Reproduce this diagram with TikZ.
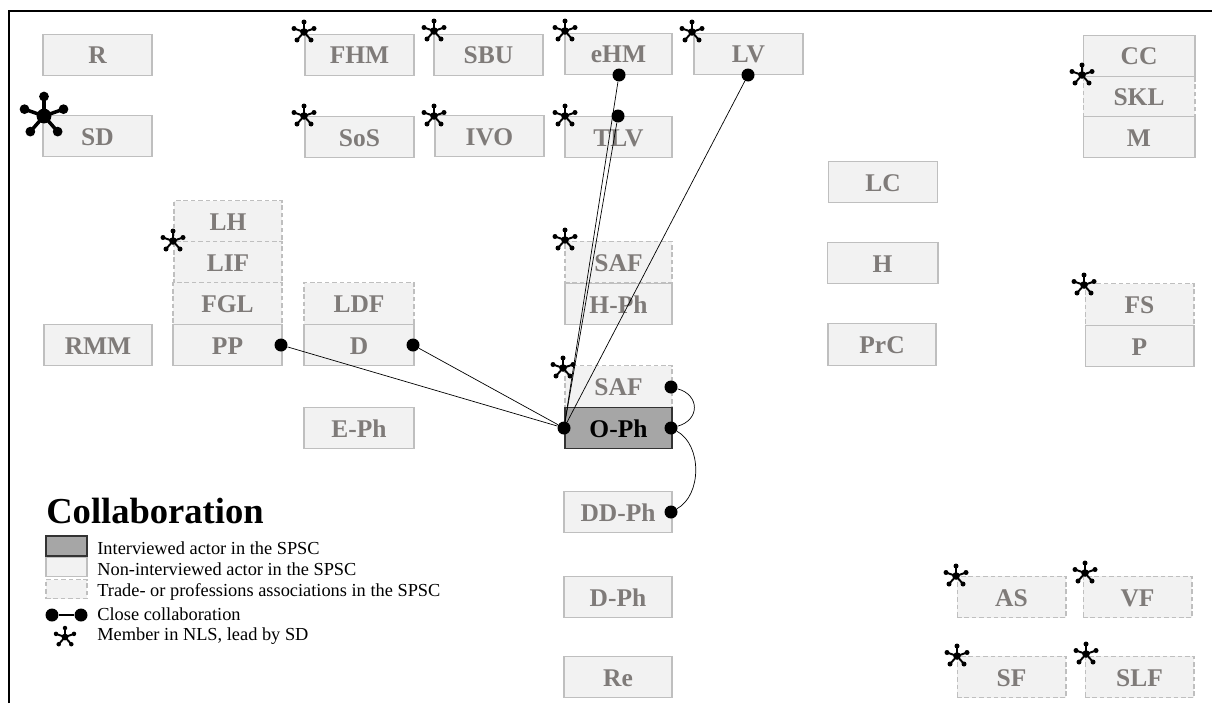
\documentclass[tikz,border=0pt]{standalone}
\usepackage{fontspec}
\setmainfont{Liberation Serif}
\definecolor{actorfill}{HTML}{F2F2F2}
\definecolor{actorline}{HTML}{BFBFBF}
\definecolor{actortext}{HTML}{7F7B79}
\definecolor{mainfill}{HTML}{A6A6A6}
\definecolor{mainline}{HTML}{333333}
\tikzset{
    actor/.style={draw=actorline,fill=actorfill,line width=0.6pt,minimum width=2.18cm,minimum height=0.83cm,inner sep=0pt,text height=0.36cm,text depth=0pt,text=actortext,font=\fontsize{14.5}{15}\selectfont\bfseries},
    assoc/.style={actor,dashed,dash pattern=on 2.6pt off 1.6pt},
    mainactor/.style={actor,draw=mainline,fill=mainfill,text=black},
    tie/.style={circle,fill=black,inner sep=0pt,minimum size=0.26cm},
    legendtext/.style={anchor=west,inner sep=0pt,font=\fontsize{10.45}{12}\selectfont},
    memberstar/.pic={
        \draw (0,0)--(0,-10) (0,0)--(-10,-3.5) (0,0)--(10,-3.5) (0,0)--(-7,8) (0,0)--(7,8);
        \fill (0,0) circle (3.8);
        \fill (0,-10) circle (2.5);
        \fill (-10,-3.5) circle (2.5);
        \fill (10,-3.5) circle (2.5);
        \fill (-7,8) circle (2.5);
        \fill (7,8) circle (2.5);
    }
}
\begin{document}
\begin{tikzpicture}[x=0.02cm,y=-0.02cm]
    \useasboundingbox (0,0) rectangle (1212,703);
    \draw[line width=1.2pt] (9,703)--(9,11)--(1212,11);

    \node[actor] (R) at (97.5,55) {R};
    \node[actor] (SD) at (97.5,136) {SD};
    \node[actor] (FHM) at (359.5,55) {FHM};
    \node[actor] (SBU) at (488.5,55) {SBU};
    \node[actor,minimum width=2.14cm] (eHM) at (618.5,54) {eHM};
    \node[actor] (LV) at (748.5,54) {LV};
    \node[actor] (SoS) at (359.5,137) {SoS};
    \node[actor] (IVO) at (489.5,136) {IVO};
    \node[actor,minimum width=2.14cm] (TLV) at (618.5,137) {TLV};
    \node[actor] (LC) at (883,182) {LC};
    \node[actor,minimum width=2.22cm] (H) at (882.5,263) {H};
    \node[actor,minimum width=2.16cm] (PrC) at (882,344.5) {PrC};

    \node[assoc,minimum width=2.24cm] (SKL) at (1139,96.5) {SKL};
    \node[actor,minimum width=2.24cm] (CC) at (1139,56) {CC};
    \node[actor,minimum width=2.24cm] (M) at (1139,137) {M};
    \node[assoc] (FS) at (1139.5,304.5) {FS};
    \node[actor] (P) at (1139.5,346) {P};

    \node[assoc,minimum width=2.16cm] (LH) at (228,221.5) {LH};
    \node[assoc,minimum width=2.16cm] (LIF) at (228,262.5) {LIF};
    \node[assoc] (FGL) at (227.5,303.5) {FGL};
    \node[actor] (PP) at (227.5,345) {PP};
    \node[actor,minimum width=2.16cm] (RMM) at (98,345) {RMM};
    \node[assoc,minimum width=2.2cm] (LDF) at (359,303.5) {LDF};
    \node[actor,minimum width=2.2cm] (D) at (359,345) {D};
    \node[actor,minimum width=2.2cm] (EPh) at (359,428) {E-Ph};

    \node[assoc,minimum width=2.14cm] (SAFa) at (618.5,262) {SAF};
    \node[actor,minimum width=2.14cm] (HPh) at (618.5,304) {H-Ph};
    \node[assoc,minimum width=2.14cm] (SAFb) at (618.5,386.5) {SAF};
    \node[mainactor,minimum width=2.14cm] (OPh) at (618.5,428) {O-Ph};
    \node[actor,minimum width=2.16cm] (DDPh) at (618,512) {DD-Ph};
    \node[actor,minimum width=2.16cm] (DPh) at (618,597) {D-Ph};
    \node[actor,minimum width=2.16cm] (Re) at (618,677) {Re};

    \node[assoc] (AS) at (1011.5,597) {AS};
    \node[assoc] (VF) at (1137.5,597) {VF};
    \node[assoc] (SF) at (1011.5,677) {SF};
    \node[assoc] (SLF) at (1139.5,677) {SLF};

    \begin{scope}[line width=1.1pt]
    \pic at (304,32) {memberstar};
    \pic at (434,31) {memberstar};
    \pic at (565,31) {memberstar};
    \pic at (692,32) {memberstar};
    \pic at (304,116) {memberstar};
    \pic at (434,116) {memberstar};
    \pic at (565,116) {memberstar};
    \pic at (173,241) {memberstar};
    \pic at (565,240) {memberstar};
    \pic at (563,368) {memberstar};
    \pic at (1082,75) {memberstar};
    \pic at (1084,285) {memberstar};
    \pic at (956,576) {memberstar};
    \pic at (1085,573) {memberstar};
    \pic at (957,656) {memberstar};
    \pic at (1086,654) {memberstar};
    \pic[scale=0.9] at (65,637) {memberstar};
    \pic[scale=1.95,line width=2pt] at (44,116) {memberstar};
    \end{scope}

    \node[tie] (eHMtie) at (619,75) {};
    \node[tie] (TLVtie) at (618,116) {};
    \node[tie] (LVtie) at (748,75) {};
    \node[tie] (PPtie) at (281,345) {};
    \node[tie] (Dtie) at (413,345) {};
    \node[tie] (SAFtie) at (671,387) {};
    \node[tie] (OPhleft) at (564,428) {};
    \node[tie] (OPhright) at (671,428) {};
    \node[tie] (DDPhtie) at (671,512) {};
    \draw (OPhleft)--(eHMtie);
    \draw (OPhleft)--(TLVtie);
    \draw (OPhleft)--(LVtie);
    \draw (OPhleft)--(PPtie);
    \draw (OPhleft)--(Dtie);
    \draw (OPhright) .. controls (700,420) and (700,395) .. (SAFtie);
    \draw (OPhright) .. controls (702,445) and (702,495) .. (DDPhtie);

    \node[anchor=west,inner sep=0pt,font=\fontsize{20.8}{24}\selectfont\bfseries] (title) at (46,511) {Collaboration};
    \node[mainactor,minimum width=0.82cm,minimum height=0.4cm] (keymain) at (66.5,546) {};
    \node[actor,minimum width=0.82cm,minimum height=0.38cm] (keyactor) at (66.5,567) {};
    \node[assoc,minimum width=0.82cm,minimum height=0.38cm] (keyassoc) at (66.5,589) {};
    \node[legendtext] (textmain) at (97,548) {Interviewed actor in the SPSC};
    \node[legendtext] (textactor) at (97,569.5) {Non-interviewed actor in the SPSC};
    \node[legendtext] (textassoc) at (97,592) {Trade- or professions associations in the SPSC};
    \node[legendtext] (texttie) at (97,614) {Close collaboration};
    \node[legendtext] (textstar) at (97,636) {Member in NLS, lead by SD};
    \node[tie] (keyleft) at (52,615) {};
    \node[tie] (keyright) at (81,615) {};
    \draw[line width=0.9pt] (keyleft)--(keyright);
\end{tikzpicture}
\end{document}
